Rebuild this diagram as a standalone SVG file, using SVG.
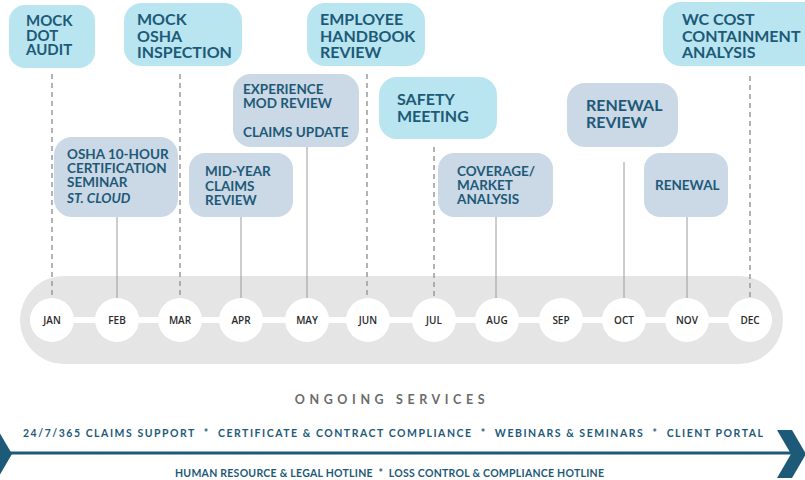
<svg xmlns="http://www.w3.org/2000/svg" width="805" height="480" viewBox="0 0 805 480">
  <style>
    .cyan { fill: #b9e5f0; }
    .slate { fill: #cbd8e6; }
    .lbl { font-family: Lato, "Liberation Sans", sans-serif; font-weight: 700; fill: #1d5a78; }
    .big { font-size: 16px; }
    .mid { font-size: 15px; }
    .sm { font-size: 13.5px; }
    .dash { stroke: #9a9a9a; stroke-width: 1.5; stroke-dasharray: 5 4; fill: none; }
    .solid { stroke: #9a9a9a; stroke-width: 1; fill: none; }
    .month { font-family: "Open Sans", "Liberation Sans", sans-serif; font-weight: 600; font-size: 10px; fill: #2a2a2a; text-anchor: middle; }
    .svc { font-family: Lato, "Liberation Sans", sans-serif; font-weight: 700; fill: #1d5a78; white-space: pre; }
  </style>

  <!-- timeline track -->
  <g id="timeline">
    <rect x="20" y="276" width="763" height="88" rx="44" fill="#e5e5e5"/>
    <line x1="52" y1="320" x2="750" y2="320" stroke="#ffffff" stroke-width="6"/>
  </g>

  <!-- connectors from events to months -->
  <g id="connectors">
    <line class="dash" x1="52" y1="74" x2="52" y2="298"/>
    <line class="solid" x1="117" y1="217" x2="117" y2="298"/>
    <line class="dash" x1="180" y1="74" x2="180" y2="298"/>
    <line class="solid" x1="241" y1="217" x2="241" y2="298"/>
    <line class="solid" x1="307" y1="147" x2="307" y2="298"/>
    <line class="dash" x1="367" y1="74" x2="367" y2="298"/>
    <line class="dash" x1="434" y1="147" x2="434" y2="298"/>
    <line class="solid" x1="496" y1="217" x2="496" y2="298"/>
    <line class="solid" x1="624" y1="162" x2="624" y2="298"/>
    <line class="solid" x1="687" y1="217" x2="687" y2="298"/>
    <line class="dash" x1="750" y1="76" x2="750" y2="298"/>
  </g>

  <!-- months -->
  <g id="month-jan"><circle cx="52" cy="320" r="22" fill="#fff"/><text class="month" x="52" y="324">JAN</text></g>
  <g id="month-feb"><circle cx="117" cy="320" r="22" fill="#fff"/><text class="month" x="117" y="324">FEB</text></g>
  <g id="month-mar"><circle cx="180" cy="320" r="22" fill="#fff"/><text class="month" x="180" y="324">MAR</text></g>
  <g id="month-apr"><circle cx="241" cy="320" r="22" fill="#fff"/><text class="month" x="241" y="324">APR</text></g>
  <g id="month-may"><circle cx="307" cy="320" r="22" fill="#fff"/><text class="month" x="307" y="324">MAY</text></g>
  <g id="month-jun"><circle cx="368" cy="320" r="22" fill="#fff"/><text class="month" x="368" y="324">JUN</text></g>
  <g id="month-jul"><circle cx="434" cy="320" r="22" fill="#fff"/><text class="month" x="434" y="324">JUL</text></g>
  <g id="month-aug"><circle cx="497" cy="320" r="22" fill="#fff"/><text class="month" x="497" y="324">AUG</text></g>
  <g id="month-sep"><circle cx="561" cy="320" r="22" fill="#fff"/><text class="month" x="561" y="324">SEP</text></g>
  <g id="month-oct"><circle cx="624" cy="320" r="22" fill="#fff"/><text class="month" x="624" y="324">OCT</text></g>
  <g id="month-nov"><circle cx="687" cy="320" r="22" fill="#fff"/><text class="month" x="687" y="324">NOV</text></g>
  <g id="month-dec"><circle cx="750" cy="320" r="22" fill="#fff"/><text class="month" x="750" y="324">DEC</text></g>

  <!-- events -->
  <g id="mock-dot-audit">
    <rect class="cyan" x="9" y="5" width="86" height="63" rx="16"/>
    <text class="lbl mid" x="26" y="26">MOCK</text>
    <text class="lbl mid" x="26" y="40.5">DOT</text>
    <text class="lbl mid" x="26" y="55">AUDIT</text>
  </g>
  <g id="mock-osha-inspection">
    <rect class="cyan" x="124" y="3" width="118" height="63" rx="18"/>
    <text class="lbl big" x="137" y="25">MOCK</text>
    <text class="lbl big" x="137" y="41.5">OSHA</text>
    <text class="lbl big" x="137" y="57.5">INSPECTION</text>
  </g>
  <g id="employee-handbook-review">
    <rect class="cyan" x="307" y="3" width="118" height="63" rx="18"/>
    <text class="lbl big" x="320" y="25">EMPLOYEE</text>
    <text class="lbl big" x="320" y="41.5">HANDBOOK</text>
    <text class="lbl big" x="320" y="57.5">REVIEW</text>
  </g>
  <g id="wc-cost-containment">
    <rect class="cyan" x="663" y="2" width="160" height="64" rx="18"/>
    <text class="lbl big" x="682" y="25">WC COST</text>
    <text class="lbl big" x="682" y="41.5">CONTAINMENT</text>
    <text class="lbl big" x="682" y="57.5">ANALYSIS</text>
  </g>
  <g id="safety-meeting">
    <rect class="cyan" x="379" y="77" width="118" height="62" rx="18"/>
    <text class="lbl big" x="397" y="104.5">SAFETY</text>
    <text class="lbl big" x="397" y="121.5">MEETING</text>
  </g>
  <g id="experience-mod-review">
    <rect class="slate" x="233" y="74" width="126" height="73" rx="18"/>
    <text class="lbl sm" x="243" y="94">EXPERIENCE</text>
    <text class="lbl sm" x="243" y="107.5">MOD REVIEW</text>
    <text class="lbl sm" x="243" y="137">CLAIMS UPDATE</text>
  </g>
  <g id="osha-10-hour">
    <rect class="slate" x="54" y="137" width="124" height="80" rx="18"/>
    <text class="lbl sm" x="67" y="159">OSHA 10-HOUR</text>
    <text class="lbl sm" x="67" y="173">CERTIFICATION</text>
    <text class="lbl sm" x="67" y="187">SEMINAR</text>
    <text class="lbl sm" x="67" y="203" font-style="italic">ST. CLOUD</text>
  </g>
  <g id="mid-year-claims-review">
    <rect class="slate" x="189" y="153" width="104" height="64" rx="16"/>
    <text class="lbl sm" x="205" y="176">MID-YEAR</text>
    <text class="lbl sm" x="205" y="191">CLAIMS</text>
    <text class="lbl sm" x="205" y="205">REVIEW</text>
  </g>
  <g id="coverage-market-analysis">
    <rect class="slate" x="438" y="153" width="115" height="64" rx="16"/>
    <text class="lbl sm" x="457" y="176">COVERAGE/</text>
    <text class="lbl sm" x="457" y="190">MARKET</text>
    <text class="lbl sm" x="457" y="204">ANALYSIS</text>
  </g>
  <g id="renewal-review">
    <rect class="slate" x="567" y="83" width="111" height="64" rx="18"/>
    <text class="lbl big" x="586" y="111">RENEWAL</text>
    <text class="lbl big" x="586" y="127.5">REVIEW</text>
  </g>
  <g id="renewal">
    <rect class="slate" x="644" y="153" width="84" height="64" rx="16"/>
    <text class="lbl sm" x="655" y="189.5">RENEWAL</text>
  </g>

  <!-- ongoing services -->
  <g id="ongoing-services">
    <text x="392" y="404" text-anchor="middle" font-family="Lato, 'Liberation Sans', sans-serif" font-weight="700" font-size="12.5" letter-spacing="4.6" fill="#6b6b6b">ONGOING SERVICES</text>
    <text class="svc" xml:space="preserve" x="23" y="437" font-size="10.5" textLength="740" lengthAdjust="spacing">24/7/365 CLAIMS SUPPORT  *  CERTIFICATE &amp; CONTRACT COMPLIANCE  *  WEBINARS &amp; SEMINARS  *  CLIENT PORTAL</text>
    <line x1="0" y1="453" x2="792" y2="453" stroke="#1d5a78" stroke-width="3"/>
    <text class="svc" xml:space="preserve" x="175" y="477" font-size="10.5" textLength="429" lengthAdjust="spacing">HUMAN RESOURCE &amp; LEGAL HOTLINE  *  LOSS CONTROL &amp; COMPLIANCE HOTLINE</text>
    <polygon points="777,430 792,430 806,454 792,478 777,478 791,454" fill="#1d5a78"/>
    <polygon points="-17,430 -2,430 12,454 -2,478 -17,478 -3,454" fill="#1d5a78"/>
  </g>
</svg>
